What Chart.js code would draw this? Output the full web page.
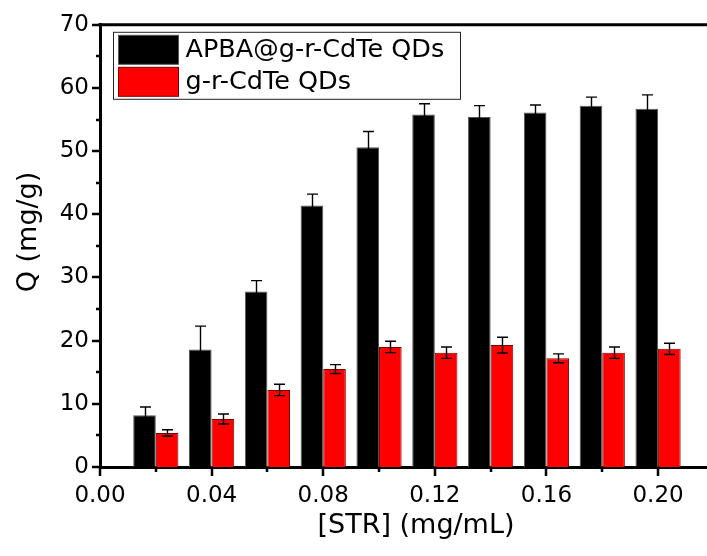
<!DOCTYPE html>
<html>
<head>
<meta charset="utf-8">
<script src="https://cdn.jsdelivr.net/npm/chart.js@4.4.1/dist/chart.umd.min.js"></script>
<style>
html,body{margin:0;padding:0;background:#fff;overflow:hidden;}
#wrap{width:707px;height:556px;position:relative;overflow:hidden;}
</style>
</head>
<body>
<div id="wrap"><canvas id="c" width="733" height="556"></canvas></div>
<script>
// ---- data ----
const concentrations = [0.02, 0.04, 0.06, 0.08, 0.10, 0.12, 0.14, 0.16, 0.18, 0.20];
const apbaQ   = [8.2, 18.6, 27.8, 41.4, 50.6, 55.8, 55.4, 56.1, 57.2, 56.7];
const apbaErr = [1.3, 3.7, 1.7, 1.8, 2.5, 1.7, 1.8, 1.2, 1.35, 2.2];
const cdteQ   = [5.4, 7.6, 12.2, 15.5, 19.0, 18.1, 19.3, 17.2, 18.1, 18.7];
const cdteErr = [0.5, 0.8, 0.9, 0.7, 0.9, 0.9, 1.25, 0.7, 0.9, 0.9];
const xTickValues = [0.00, 0.04, 0.08, 0.12, 0.16, 0.20];
const yTickValues = [0, 10, 20, 30, 40, 50, 60, 70];
const seriesLabels = ['APBA@g-r-CdTe QDs', 'g-r-CdTe QDs'];
const xTitle = '[STR] (mg/mL)';
const yTitle = 'Q (mg/g)';

const FONT = "'DejaVu Sans', sans-serif";

function toPoints(xs, ys) { return xs.map((x, i) => ({x: x, y: ys[i]})); }

const errorBarPlugin = {
  id: 'errorBars',
  afterDatasetsDraw(chart) {
    const ctx = chart.ctx;
    const yScale = chart.scales.y;
    ctx.save();
    ctx.strokeStyle = '#000';
    ctx.lineWidth = 1.4;
    chart.data.datasets.forEach((ds, di) => {
      const meta = chart.getDatasetMeta(di);
      meta.data.forEach((el, i) => {
        const v = ds.data[i].y, e = ds.errors[i];
        const x = Math.round(el.x) + 0.5;
        const yt = yScale.getPixelForValue(v + e);
        const yb = yScale.getPixelForValue(v - e);
        const cap = 5.5;
        ctx.beginPath();
        ctx.moveTo(x, yb); ctx.lineTo(x, yt);
        ctx.moveTo(x - cap, yt); ctx.lineTo(x + cap, yt);
        ctx.moveTo(x - cap, yb); ctx.lineTo(x + cap, yb);
        ctx.stroke();
      });
    });
    ctx.restore();
  }
};

const framePlugin = {
  id: 'frame',
  afterDraw(chart) {
    const ctx = chart.ctx;
    const a = chart.chartArea;
    const xs = chart.scales.x, ys = chart.scales.y;
    ctx.save();
    ctx.strokeStyle = '#000';
    // top and right border
    ctx.lineWidth = 3;
    ctx.beginPath();
    ctx.moveTo(a.left - 1.5, a.top);
    ctx.lineTo(a.right, a.top);
    ctx.lineTo(a.right, a.bottom);
    ctx.stroke();
    // ticks
    ctx.lineWidth = 2.5;
    ctx.beginPath();
    yTickValues.forEach((v, i) => {
      const p = Math.round(ys.getPixelForValue(v));
      ctx.moveTo(a.left - 8, p); ctx.lineTo(a.left, p);
      if (i < yTickValues.length - 1) {
        const m = Math.round(ys.getPixelForValue((v + yTickValues[i + 1]) / 2));
        ctx.moveTo(a.left - 4, m); ctx.lineTo(a.left, m);
      }
    });
    xTickValues.forEach((v, i) => {
      const p = Math.round(xs.getPixelForValue(v));
      ctx.moveTo(p, a.bottom); ctx.lineTo(p, a.bottom + 9);
      if (i < xTickValues.length - 1) {
        const m = Math.round(xs.getPixelForValue((v + xTickValues[i + 1]) / 2));
        ctx.moveTo(m, a.bottom); ctx.lineTo(m, a.bottom + 5);
      }
    });
    ctx.stroke();
    // y axis title
    ctx.fillStyle = '#000';
    ctx.font = '27px ' + FONT;
    ctx.textAlign = 'center';
    ctx.textBaseline = 'middle';
    ctx.translate(29, 232);
    ctx.rotate(-Math.PI / 2);
    ctx.fillText(yTitle, 0, 0);
    ctx.restore();
  }
};

const legendPlugin = {
  id: 'boxLegend',
  afterDraw(chart) {
    const ctx = chart.ctx;
    const a = chart.chartArea;
    const bx = a.left + 13.5, by = a.top + 7.5;
    ctx.save();
    ctx.fillStyle = '#fff';
    ctx.fillRect(bx, by, 347, 67);
    ctx.strokeStyle = '#222';
    ctx.lineWidth = 1;
    ctx.strokeRect(bx, by, 347, 67);
    ctx.font = '25.5px ' + FONT;
    ctx.textBaseline = 'middle';
    ctx.textAlign = 'left';
    chart.data.datasets.forEach((ds, i) => {
      const sy = by + 3 + i * 32;
      ctx.fillStyle = ds.backgroundColor;
      ctx.fillRect(bx + 5, sy, 60, 29);
      ctx.strokeStyle = ds.borderColor;
      ctx.strokeRect(bx + 5, sy, 60, 29);
      ctx.fillStyle = '#000';
      ctx.fillText(ds.label, bx + 72, sy + 15);
    });
    ctx.restore();
  }
};

new Chart(document.getElementById('c'), {
  type: 'bar',
  data: {
    datasets: [
      {
        label: seriesLabels[0],
        data: toPoints(concentrations, apbaQ),
        errors: apbaErr,
        backgroundColor: '#000000',
        borderColor: '#555555',
        borderWidth: 1,
        categoryPercentage: 0.81,
        barPercentage: 1.0
      },
      {
        label: seriesLabels[1],
        data: toPoints(concentrations, cdteQ),
        errors: cdteErr,
        backgroundColor: '#ff0000',
        borderColor: '#7a0000',
        borderWidth: 1,
        categoryPercentage: 0.81,
        barPercentage: 1.0
      }
    ]
  },
  options: {
    responsive: false,
    devicePixelRatio: 1,
    animation: false,
    layout: {padding: {top: 19, left: 0, right: 1, bottom: 0}},
    plugins: {legend: {display: false}, tooltip: {enabled: false}},
    scales: {
      x: {
        type: 'linear',
        min: 0,
        max: 0.2265,
        offset: false,
        grid: {display: false, drawTicks: false, offset: false},
        border: {display: true, width: 3, color: '#000'},
        afterBuildTicks(scale) { scale.ticks = xTickValues.map(v => ({value: v})); },
        afterFit(scale) { scale.height = 89; },
        ticks: {
          autoSkip: false, maxRotation: 0, padding: 15, color: '#000',
          font: {family: FONT, size: 23},
          callback: v => Number(v).toFixed(2)
        },
        title: {display: true, text: xTitle, color: '#000', font: {family: FONT, size: 27}, padding: {top: 0, bottom: 14}}
      },
      y: {
        type: 'linear',
        min: 0,
        max: 70,
        grid: {display: false, drawTicks: false},
        border: {display: true, width: 3, color: '#000'},
        afterBuildTicks(scale) { scale.ticks = yTickValues.map(v => ({value: v})); },
        afterFit(scale) { scale.width = 100; },
        ticks: {
          padding: 11, color: '#000',
          font: {family: FONT, size: 23},
          callback: v => String(v)
        },
        title: {display: false}
      }
    }
  },
  plugins: [errorBarPlugin, framePlugin, legendPlugin]
});
</script>
</body>
</html>
